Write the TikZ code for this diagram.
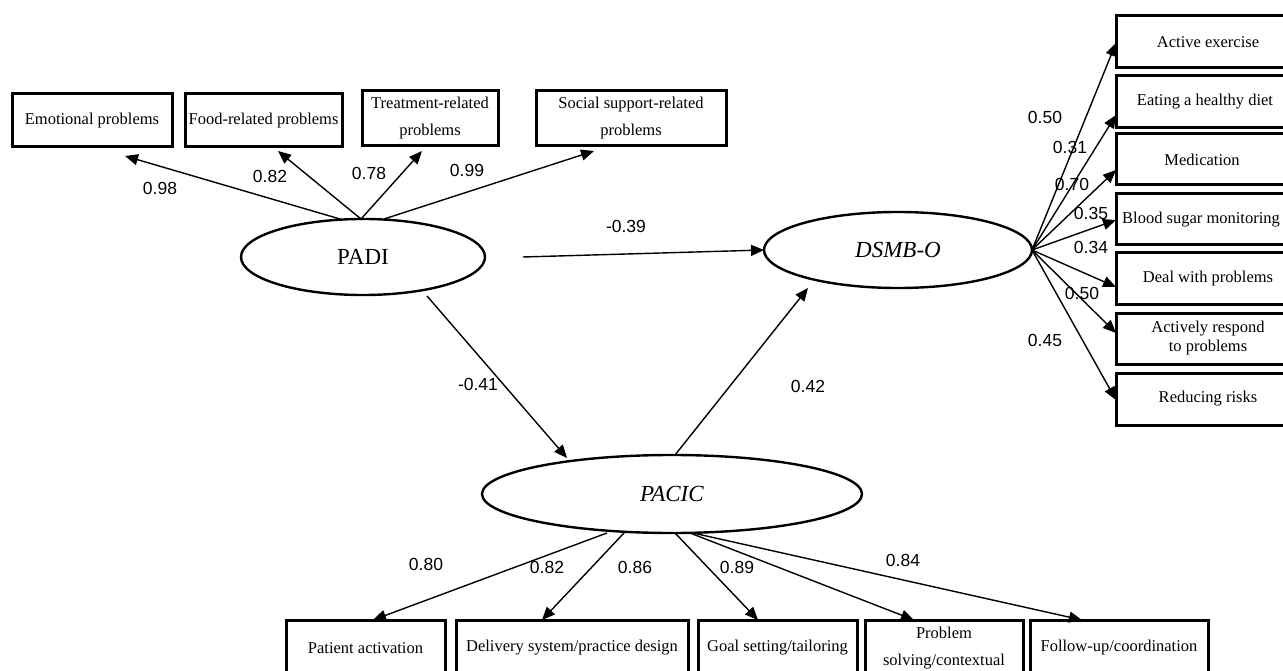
\documentclass[tikz,border=0pt]{standalone}
\usepackage{fontspec}
\setmainfont{Liberation Serif}
\newfontfamily\numfont{Liberation Sans}
\usetikzlibrary{shapes.geometric,arrows.meta,calc}
\begin{document}
\begin{tikzpicture}[x=1pt,y=-1pt,
  box/.style={draw, line width=3pt, inner sep=0pt, outer sep=0pt, align=center, font=\fontsize{16.5}{27}\selectfont},
  lat/.style={draw, ellipse, line width=2.4pt, inner sep=0pt, outer sep=0pt, font=\fontsize{23}{27}\selectfont},
  num/.style={font=\numfont\fontsize{17.5}{20}\selectfont, inner sep=0pt},
  arr/.style={line width=1.4pt, -{Triangle[length=13pt,width=11pt]}}
]
\useasboundingbox[fill=white] (0,0) rectangle (1283,671);

% latent variables
\node[lat, minimum width=244pt, minimum height=76pt] (padi) at (363,257) {PADI};
\node[lat, minimum width=268pt, minimum height=76pt] (dsmb) at (898,250) {\textit{DSMB-O}};
\node[lat, minimum width=380pt, minimum height=78pt] (pacic) at (672,494) {\textit{PACIC}};

% top boxes
\node[box, minimum width=160pt, minimum height=53pt] (emo) at (92,120.5) {Emotional problems};
\node[box, minimum width=157pt, minimum height=53pt] (food) at (263.5,120.5) {Food-related problems};
\node[box, minimum width=136pt, minimum height=55pt] (treat) at (430,118.5) {Treatment-related\\problems};
\node[box, minimum width=190pt, minimum height=55pt] (soc) at (631,118.5) {Social support-related\\problems};

% right boxes
\node[box, minimum width=184pt, minimum height=52pt] (ae) at (1208,42) {Active exercise};
\node[box, minimum width=184pt, minimum height=52pt] (ehd) at (1208,102) {Eating a healthy diet\hspace*{6pt}};
\node[box, minimum width=184pt, minimum height=51pt] (med) at (1208,159.5) {Medication\hspace*{12pt}};
\node[box, minimum width=184pt, minimum height=51pt] (bsm) at (1208,219.5) {Blood sugar monitoring\hspace*{14pt}};
\node[box, minimum width=184pt, minimum height=51pt] (dwp) at (1208,278.5) {Deal with problems};
\node[box, minimum width=184pt, minimum height=51pt, font=\fontsize{16.5}{19}\selectfont] (arp) at (1208,338.5) {Actively respond\\to problems};
\node[box, minimum width=184pt, minimum height=52pt] (rr) at (1208,399) {Reducing risks};

% bottom boxes
\node[box, minimum width=159pt, minimum height=56pt] (pa) at (365.5,648) {Patient activation};
\node[box, minimum width=232pt, minimum height=56pt] (ds) at (572,648) {Delivery system/practice design};
\node[box, minimum width=159pt, minimum height=56pt] (gs) at (777.5,648) {Goal setting/tailoring};
\node[box, minimum width=158pt, minimum height=56pt] (ps) at (944,648) {Problem\\solving/contextual};
\node[box, minimum width=178pt, minimum height=56pt] (fu) at (1119,648) {Follow-up/coordination};

% PADI indicators
\draw[arr] ([xshift=-23pt]padi.north) -- ([xshift=33pt,yshift=-9pt]emo.south);
\draw[arr] ([xshift=-2pt]padi.north) -- ([xshift=14.5pt,yshift=-4pt]food.south);
\draw[arr] ([xshift=-2pt]padi.north) -- ([xshift=-8pt,yshift=-5pt]treat.south);
\draw[arr] ([xshift=21pt]padi.north) -- ([xshift=-37pt,yshift=-5pt]soc.south);

% structural paths
\draw[arr] ([xshift=38pt]padi.east) -- (dsmb.west);
\draw[arr] ([xshift=64pt,yshift=-1pt]padi.south) -- ([xshift=-105pt,yshift=-3pt]pacic.north);
\draw[arr] ([xshift=3pt]pacic.north) -- ([xshift=-90pt]dsmb.south);

% DSMB-O indicators
\draw[arr] (dsmb.east) -- ([yshift=-1pt]ae.west);
\draw[arr] (dsmb.east) -- ([yshift=-13pt]ehd.west);
\draw[arr] (dsmb.east) -- ([yshift=-10.5pt]med.west);
\draw[arr] (dsmb.east) -- ([yshift=-0.5pt]bsm.west);
\draw[arr] (dsmb.east) -- ([yshift=-8.5pt]dwp.west);
\draw[arr] (dsmb.east) -- ([yshift=5.5pt]arp.west);
\draw[arr] (dsmb.east) -- ([yshift=-1pt]rr.west);

% PACIC indicators
\draw[arr] ([xshift=-65pt]pacic.south) -- ([xshift=7.5pt]pa.north);
\draw[arr] ([xshift=-48pt]pacic.south) -- ([xshift=-30pt]ds.north);
\draw[arr] ([xshift=3pt]pacic.south) -- ([xshift=-19.5pt]gs.north);
\draw[arr] ([xshift=18pt]pacic.south) -- ([xshift=-30pt]ps.north);
\draw[arr] ([xshift=21pt]pacic.south) -- ([xshift=-37pt]fu.north);

% coefficients
\node[num] (l1) at (160,188) {0.98};
\node[num] (l2) at (270,176) {0.82};
\node[num] (l3) at (369,173) {0.78};
\node[num] (l4) at (467,170) {0.99};
\node[num] (l5) at (626,226) {-0.39};
\node[num] (l6) at (478,384) {-0.41};
\node[num] (l7) at (808,386) {0.42};
\node[num] (r1) at (1045,117) {0.50};
\node[num] (r2) at (1070,147) {0.31};
\node[num] (r3) at (1072,184) {0.70};
\node[num] (r4) at (1091,213) {0.35};
\node[num] (r5) at (1091,247) {0.34};
\node[num] (r6) at (1082,293) {0.50};
\node[num] (r7) at (1045,340) {0.45};
\node[num] (b1) at (426,564) {0.80};
\node[num] (b2) at (547,567) {0.82};
\node[num] (b3) at (635,567) {0.86};
\node[num] (b4) at (737,567) {0.89};
\node[num] (b5) at (903,560) {0.84};
\end{tikzpicture}
\end{document}
